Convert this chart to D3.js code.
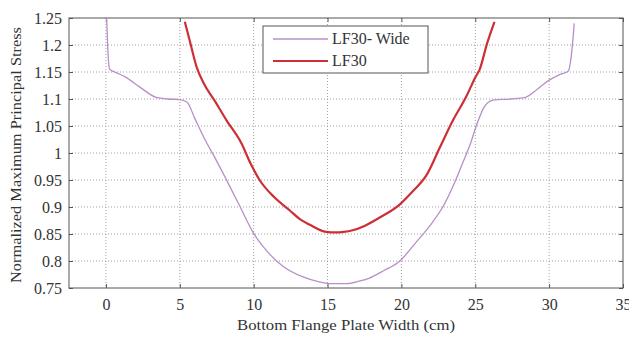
<!DOCTYPE html>
<html>
<head>
<meta charset="utf-8">
<script src="https://cdn.jsdelivr.net/npm/d3@7"></script>
<style>
  body { margin: 0; background: #fff; }
</style>
</head>
<body>
<div id="chart"></div>
<script>
// series
var wideX = [0.05, 0.15, 0.25, 0.6, 1.3, 2.3, 3.4, 4.2, 5.0, 5.5, 6.0, 6.7, 7.4, 8.2, 9.0, 10.0, 11.0, 12.0, 13.3, 14.5, 15.3, 16.3, 17.2, 17.8, 18.8, 19.9, 21.0, 22.0, 22.8, 23.6, 24.2, 24.6, 25.2, 25.6, 26.2, 27.4, 28.4, 29.2, 30.0, 30.7, 31.3, 31.5, 31.7];
var wideY = [1.25, 1.18, 1.155, 1.150, 1.141, 1.122, 1.103, 1.100, 1.099, 1.094, 1.065, 1.025, 0.99, 0.948, 0.905, 0.851, 0.815, 0.790, 0.771, 0.761, 0.758, 0.758, 0.763, 0.768, 0.782, 0.800, 0.835, 0.868, 0.900, 0.945, 0.985, 1.012, 1.06, 1.085, 1.098, 1.100, 1.103, 1.118, 1.135, 1.145, 1.152, 1.18, 1.24];

var lf30X = [5.34, 5.7, 6.13, 6.6, 7.4, 8.15, 9.17, 9.8, 10.4, 11.4, 12.43, 13.2, 13.8, 14.9, 15.5, 16.1, 16.7, 17.5, 18.5, 19.86, 20.8, 21.7, 22.6, 23.5, 24.4, 25.0, 25.3, 25.8, 26.3];
var lf30Y = [1.243, 1.205, 1.16, 1.13, 1.095, 1.061, 1.018, 0.98, 0.950, 0.918, 0.894, 0.876, 0.867, 0.854, 0.853, 0.854, 0.857, 0.865, 0.880, 0.904, 0.930, 0.959, 1.01, 1.061, 1.105, 1.14, 1.155, 1.203, 1.243];

var xTicks = [0, 5, 10, 15, 20, 25, 30, 35];
var yTicks = [0.75, 0.8, 0.85, 0.9, 0.95, 1, 1.05, 1.1, 1.15, 1.2, 1.25];
var seriesNames = ["LF30- Wide", "LF30"];
var seriesColors = ["#b88fc8", "#cc2f35"];

var serif = "Liberation Serif";

var outerWidth = 629, outerHeight = 337;
var margin = {top: 18, right: 6, bottom: 49, left: 69};
var innerWidth = outerWidth - margin.left - margin.right;
var innerHeight = outerHeight - margin.top - margin.bottom;

var root = d3.select("#chart").append("svg")
  .attr("width", outerWidth)
  .attr("height", outerHeight)
  .attr("font-family", serif);

var svg = root.append("g")
  .attr("transform", "translate(" + margin.left + "," + margin.top + ")");

var xScale = d3.scaleLinear().domain([-2.5, 35]).range([0, innerWidth]);
var yScale = d3.scaleLinear().domain([0.75, 1.25]).range([innerHeight, 0]);

// grid
svg.append("g").selectAll("line").data(xTicks.filter(function(d){ return d < 35; })).enter()
  .append("line")
  .attr("x1", function(d){ return xScale(d); }).attr("x2", function(d){ return xScale(d); })
  .attr("y1", 0).attr("y2", innerHeight)
  .attr("stroke", "#a0a0a0").attr("stroke-dasharray", "1,2");
svg.append("g").selectAll("line").data(yTicks.slice(1, -1)).enter()
  .append("line")
  .attr("x1", 0).attr("x2", innerWidth)
  .attr("y1", function(d){ return yScale(d); }).attr("y2", function(d){ return yScale(d); })
  .attr("stroke", "#a0a0a0").attr("stroke-dasharray", "1,2");

// axes
var xAxis = d3.axisBottom(xScale).tickValues(xTicks).tickSize(-4).tickPadding(11);
var yAxis = d3.axisLeft(yScale).tickValues(yTicks).tickSize(-4).tickPadding(7)
  .tickFormat(function(d){ return String(+d.toFixed(2)); });

svg.append("g").attr("transform", "translate(0," + innerHeight + ")").call(xAxis)
  .attr("font-family", serif).attr("font-size", 16);
svg.append("g").call(yAxis)
  .attr("font-family", serif).attr("font-size", 16);
svg.append("g").call(d3.axisTop(xScale).tickValues(xTicks).tickSize(-4).tickFormat(""));
svg.append("g").attr("transform", "translate(" + innerWidth + ",0)")
  .call(d3.axisRight(yScale).tickValues(yTicks).tickSize(-4).tickFormat(""));

svg.selectAll(".domain").remove();
svg.selectAll(".tick line").attr("stroke", "#555");
svg.selectAll(".tick text").attr("fill", "#333");

svg.append("rect")
  .attr("width", innerWidth).attr("height", innerHeight)
  .attr("fill", "none").attr("stroke", "#555").attr("stroke-width", 1);

// lines
var line = d3.line()
  .x(function(d){ return xScale(d[0]); })
  .y(function(d){ return yScale(d[1]); })
  .curve(d3.curveMonotoneX);

var wideData = wideX.map(function(x, i){ return [x, wideY[i]]; });
var lf30Data = lf30X.map(function(x, i){ return [x, lf30Y[i]]; });

svg.append("path").datum(wideData)
  .attr("fill", "none").attr("stroke", seriesColors[0]).attr("stroke-width", 1.3)
  .attr("d", line);
svg.append("path").datum(lf30Data)
  .attr("fill", "none").attr("stroke", seriesColors[1]).attr("stroke-width", 2.2)
  .attr("d", line);

// legend
var legend = svg.append("g").attr("transform", "translate(" + (263 - margin.left) + "," + (26 - margin.top) + ")");
legend.append("rect").attr("width", 165).attr("height", 47)
  .attr("fill", "#fff").attr("stroke", "#555");
seriesNames.forEach(function(name, i){
  var y = 13 + i * 22;
  legend.append("line").attr("x1", 10).attr("x2", 65).attr("y1", y).attr("y2", y)
    .attr("stroke", seriesColors[i]).attr("stroke-width", i === 0 ? 1.3 : 2.2);
  legend.append("text").attr("x", 69).attr("y", y + 5)
    .attr("font-size", 16).attr("fill", "#333").text(name);
});

// axis titles
svg.append("text")
  .attr("x", 346 - margin.left).attr("y", 330 - margin.top)
  .attr("text-anchor", "middle").attr("font-size", 15).attr("fill", "#333")
  .attr("textLength", 218).attr("lengthAdjust", "spacingAndGlyphs")
  .text("Bottom Flange Plate Width (cm)");
svg.append("text")
  .attr("transform", "translate(" + (21 - margin.left) + "," + (155 - margin.top) + ") rotate(-90)")
  .attr("text-anchor", "middle").attr("font-size", 15).attr("fill", "#333")
  .attr("textLength", 256).attr("lengthAdjust", "spacingAndGlyphs")
  .text("Normalized Maximum Principal Stress");
</script>
</body>
</html>
